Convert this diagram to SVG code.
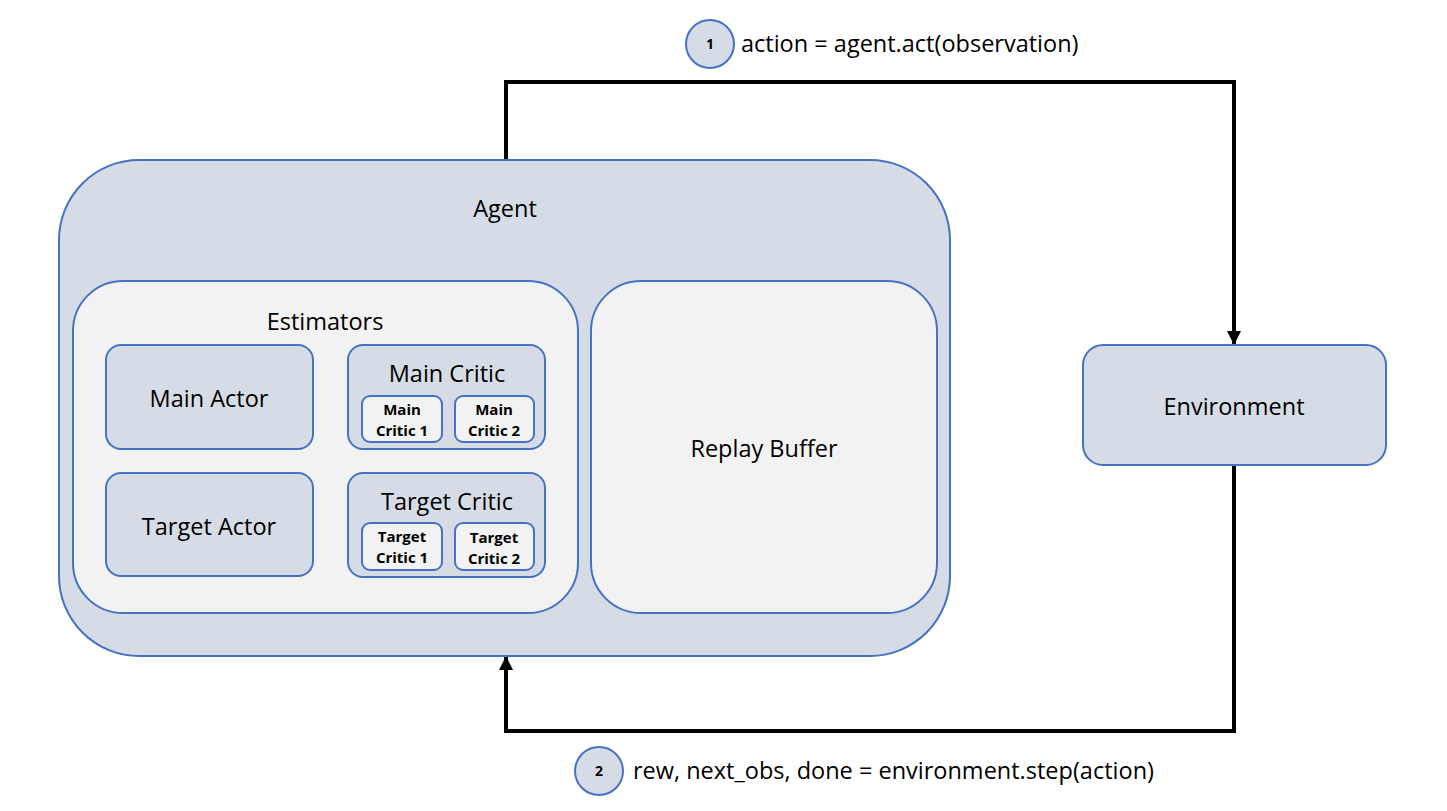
<svg xmlns="http://www.w3.org/2000/svg" width="1447" height="811" viewBox="0 0 1447 811">
<defs>
<marker id="arr" viewBox="0 0 14 14" refX="14" refY="7" markerWidth="14" markerHeight="14" orient="auto" markerUnits="userSpaceOnUse">
<path d="M0,0 L14,7 L0,14 z" fill="#000"/>
</marker>
<style>
.blue{fill:#D6DCE5;stroke:#4472C4;stroke-width:2}
.grey{fill:#F2F2F2;stroke:#4472C4;stroke-width:2}
.t{font-family:"Open Sans","Noto Sans",sans-serif;fill:#000;text-anchor:middle}
.l{font-size:23.5px}
.s{font-size:15px;font-weight:bold}
.n{font-size:14px;font-weight:bold}
.conn{fill:none;stroke:#000;stroke-width:4}
</style>
</defs>
<rect width="1447" height="811" fill="#fff"/>
<g id="connectors">
<path class="conn" d="M506,160 V82 H1234 V345" marker-end="url(#arr)"/>
<path class="conn" d="M1234,465 V731 H506 V656" marker-end="url(#arr)"/>
</g>
<g id="agent">
<rect class="blue" x="59" y="160" width="891" height="496" rx="80"/>
<text class="t l" x="505" y="217">Agent</text>
</g>
<g id="estimators">
<rect class="grey" x="73" y="281" width="505" height="332" rx="50"/>
<text class="t l" x="325" y="330">Estimators</text>
</g>
<g id="main-actor">
<rect class="blue" x="106" y="345" width="207" height="104" rx="15"/>
<text class="t l" x="209" y="407">Main Actor</text>
</g>
<g id="target-actor">
<rect class="blue" x="106" y="473" width="207" height="103" rx="15"/>
<text class="t l" x="209" y="535">Target Actor</text>
</g>
<g id="main-critic">
<rect class="blue" x="348" y="345" width="197" height="104" rx="15"/>
<text class="t l" x="447" y="382">Main Critic</text>
</g>
<g id="main-critic-1">
<rect class="grey" x="362" y="396" width="80" height="46" rx="8"/>
<text class="t s" x="402" y="415">Main</text>
<text class="t s" x="402" y="436">Critic 1</text>
</g>
<g id="main-critic-2">
<rect class="grey" x="455" y="396" width="79" height="46" rx="8"/>
<text class="t s" x="494" y="415">Main</text>
<text class="t s" x="494" y="436">Critic 2</text>
</g>
<g id="target-critic">
<rect class="blue" x="348" y="473" width="197" height="104" rx="15"/>
<text class="t l" x="447" y="510">Target Critic</text>
</g>
<g id="target-critic-1">
<rect class="grey" x="362" y="523" width="80" height="47" rx="8"/>
<text class="t s" x="402" y="542">Target</text>
<text class="t s" x="402" y="563">Critic 1</text>
</g>
<g id="target-critic-2">
<rect class="grey" x="455" y="523" width="79" height="47" rx="8"/>
<text class="t s" x="494" y="543">Target</text>
<text class="t s" x="494" y="564">Critic 2</text>
</g>
<g id="replay-buffer">
<rect class="grey" x="591" y="281" width="346" height="332" rx="50"/>
<text class="t l" x="764" y="457">Replay Buffer</text>
</g>
<g id="environment">
<rect class="blue" x="1083" y="345" width="303" height="120" rx="20"/>
<text class="t l" x="1234" y="415">Environment</text>
</g>
<g id="step1">
<circle class="blue" cx="710" cy="44" r="24"/>
<text class="t n" x="710" y="49">1</text>
<text class="t l" x="741" y="52" style="text-anchor:start">action = agent.act(observation)</text>
</g>
<g id="step2">
<circle class="blue" cx="599" cy="771" r="24"/>
<text class="t n" x="599" y="776">2</text>
<text class="t l" x="633" y="779" style="text-anchor:start">rew, next_obs, done = environment.step(action)</text>
</g>
</svg>
